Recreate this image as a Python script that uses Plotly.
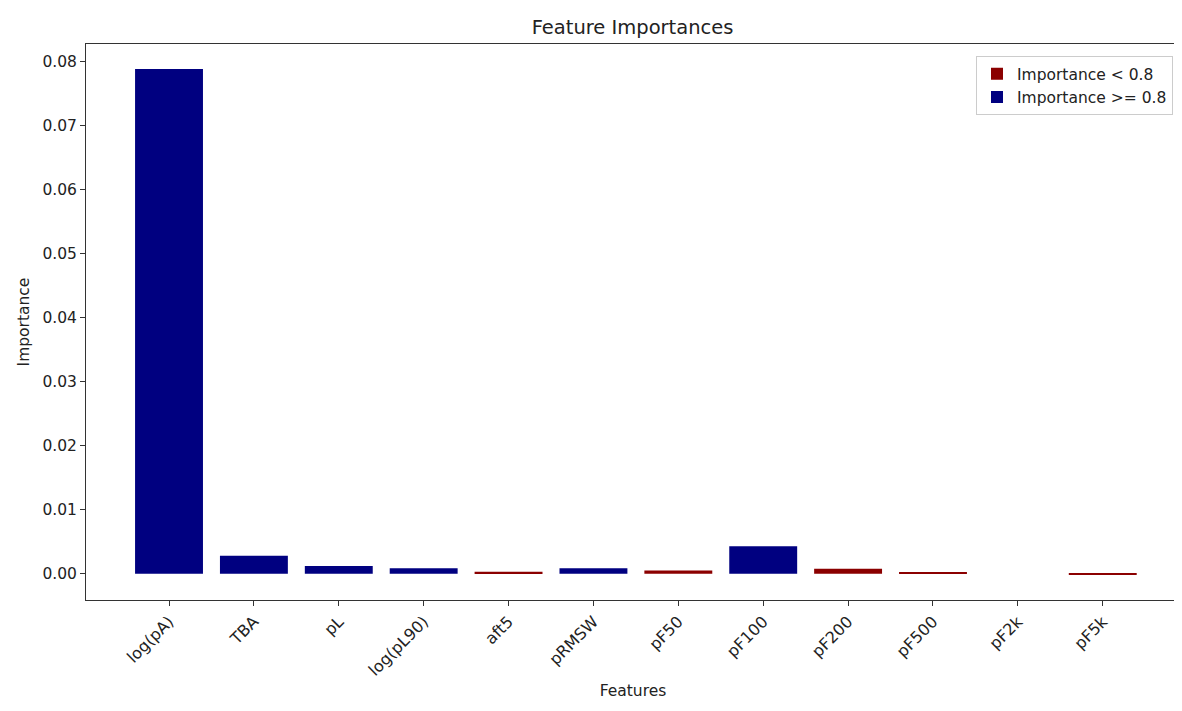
import plotly.graph_objects as go

features = ["log(pA)", "TBA", "pL", "log(pL90)", "aft5", "pRMSW",
            "pF50", "pF100", "pF200", "pF500", "pF2k", "pF5k"]
importances = [0.0789, 0.0028, 0.0012, 0.00085, 0.0003, 0.00085,
               0.0005, 0.0043, 0.0008, 0.00025, 0.0, -0.0002]
groups = ["high", "high", "high", "high", "low", "high",
          "low", "high", "low", "low", "low", "low"]

group_names = {"low": "Importance < 0.8", "high": "Importance >= 0.8"}
group_colors = {"low": "#8b0000", "high": "#000080"}

fig = go.Figure()
for g in ["low", "high"]:
    xs = [f for f, gg in zip(features, groups) if gg == g]
    ys = [v for v, gg in zip(importances, groups) if gg == g]
    fig.add_trace(go.Bar(x=xs, y=ys, name=group_names[g], width=0.8,
                         marker=dict(color=group_colors[g], line=dict(width=0))))

font = "DejaVu Sans, sans-serif"
fig.update_layout(
    width=1174, height=703,
    margin=dict(l=78, r=2, t=36, b=111),
    paper_bgcolor="white", plot_bgcolor="white",
    barmode="overlay",
    font=dict(family=font, size=15, color="#222"),
    title=dict(text="Feature Importances", x=0.532, xanchor="center",
               y=1 - 19 / 703, yanchor="middle",
               font=dict(size=19.5, color="#222")),
    showlegend=True,
    legend=dict(x=0.9936, xanchor="right", y=0.978, yanchor="top",
                bgcolor="white", bordercolor="#cccccc", borderwidth=1,
                font=dict(size=15.5), traceorder="normal", itemwidth=30),
    xaxis=dict(type="category", categoryorder="array", categoryarray=features,
               range=[-0.978, 11.91], tickangle=-45, showgrid=False,
               showline=True, linecolor="#333", linewidth=1, mirror=True,
               ticks="outside", ticklen=5, tickcolor="#333",
               tickfont=dict(size=16),
               title=dict(text="Features", font=dict(size=15.5), standoff=6)),
    yaxis=dict(range=[-0.0041, 0.0828],
               tickvals=[0, 0.01, 0.02, 0.03, 0.04, 0.05, 0.06, 0.07, 0.08],
               ticktext=["0.00", "0.01", "0.02", "0.03", "0.04", "0.05", "0.06", "0.07", "0.08"],
               showgrid=False, zeroline=False,
               showline=True, linecolor="#333", linewidth=1, mirror=True,
               ticks="outside", ticklen=5, tickcolor="#333",
               tickfont=dict(size=15.5),
               title=dict(text="Importance", font=dict(size=15.5), standoff=8)),
)

fig.write_html("out.html")
